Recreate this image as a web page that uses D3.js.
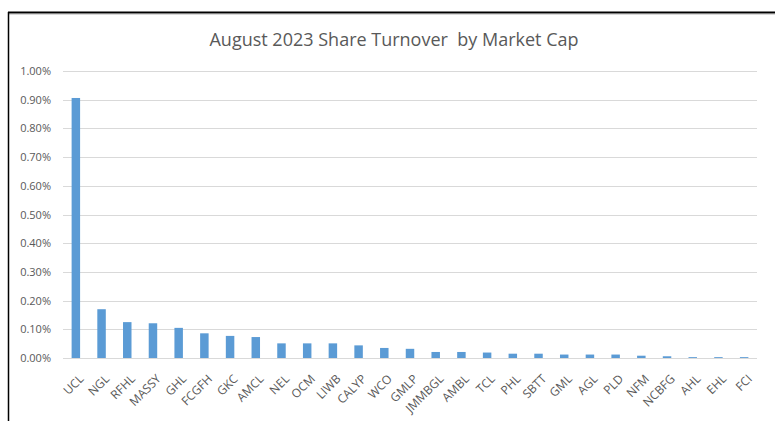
<!DOCTYPE html>
<html>
<head>
<meta charset="utf-8">
<script src="https://cdn.jsdelivr.net/npm/d3@7"></script>
<style>
  body { margin: 0; background: #fff; }
  svg { display: block; font-family: "Open Sans", "Noto Sans", sans-serif; }
</style>
</head>
<body>
<div id="chart"></div>
<script>
// chart data
var tickers = ["UCL", "NGL", "RFHL", "MASSY", "GHL", "FCGFH", "GKC", "AMCL", "NEL", "OCM",
  "LIWB", "CALYP", "WCO", "GMLP", "JMMBGL", "AMBL", "TCL", "PHL", "SBTT", "GML",
  "AGL", "PLD", "NFM", "NCBFG", "AHL", "EHL", "FCI"];
var turnover = [0.906, 0.170, 0.125, 0.121, 0.105, 0.086, 0.077, 0.073, 0.051, 0.051,
  0.051, 0.044, 0.035, 0.032, 0.021, 0.021, 0.019, 0.015, 0.015, 0.012,
  0.012, 0.012, 0.008, 0.006, 0.003, 0.003, 0.003];
var yTicks = [0, 0.1, 0.2, 0.3, 0.4, 0.5, 0.6, 0.7, 0.8, 0.9, 1.0];
var chartTitle = "August 2023 Share Turnover\u00a0 by Market Cap";

var svgWidth = 775;
var svgHeight = 421;

var margin = { top: 71, right: 18, bottom: 63, left: 63 };
var width = svgWidth - margin.left - margin.right;
var height = svgHeight - margin.top - margin.bottom;

var svg = d3.select("#chart")
  .append("svg")
  .attr("width", svgWidth)
  .attr("height", svgHeight);

// outer frame (top and left edges visible)
svg.append("line")
  .attr("x1", 8).attr("x2", svgWidth).attr("y1", 12.5).attr("y2", 12.5)
  .attr("stroke", "#000").attr("stroke-width", 2);
svg.append("line")
  .attr("x1", 8).attr("x2", svgWidth).attr("y1", 14.5).attr("y2", 14.5)
  .attr("stroke", "#d9d9d9").attr("stroke-width", 1);
svg.append("line")
  .attr("x1", 8.5).attr("x2", 8.5).attr("y1", 12).attr("y2", svgHeight)
  .attr("stroke", "#000").attr("stroke-width", 1.5);

svg.append("text")
  .attr("x", 394)
  .attr("y", 46)
  .attr("text-anchor", "middle")
  .attr("fill", "#595959")
  .style("font-size", "18px")
  .text(chartTitle);

var g = svg.append("g")
  .attr("transform", `translate(${margin.left}, ${margin.top})`);

var x = d3.scaleBand()
  .domain(tickers)
  .range([0, width])
  .paddingInner(0.67)
  .paddingOuter(0.335);

var y = d3.scaleLinear()
  .domain([0, 1.0])
  .range([height, 0]);

// gridlines
g.selectAll(".grid")
  .data(yTicks)
  .enter()
  .append("line")
  .attr("x1", 0)
  .attr("x2", width)
  .attr("y1", d => Math.round(y(d)) + 0.5)
  .attr("y2", d => Math.round(y(d)) + 0.5)
  .attr("stroke", "#d9d9d9")
  .attr("stroke-width", 1);

// y axis labels
var leftAxis = d3.axisLeft(y)
  .tickValues(yTicks)
  .tickSize(0)
  .tickPadding(12)
  .tickFormat(d => d.toFixed(2) + "%");

g.append("g")
  .call(leftAxis)
  .call(a => a.select(".domain").remove())
  .selectAll("text")
  .attr("fill", "#595959")
  .style("font-size", "11px")
  .style("font-family", "'Open Sans', sans-serif");

// bars
g.selectAll(".bar")
  .data(turnover)
  .enter()
  .append("rect")
  .attr("class", "bar")
  .attr("x", (d, i) => x(tickers[i]))
  .attr("y", d => y(d))
  .attr("width", x.bandwidth())
  .attr("height", d => height - y(d))
  .attr("fill", "#5b9bd5");

// x axis
var bottomAxis = d3.axisBottom(x).tickSize(0).tickPadding(8);

var xg = g.append("g")
  .attr("transform", `translate(0, ${height})`)
  .call(bottomAxis);

xg.select(".domain")
  .attr("stroke", "#d9d9d9")
  .attr("d", `M0,0.5H${width}`);

xg.selectAll("text")
  .attr("fill", "#595959")
  .style("font-size", "12px")
  .style("font-family", "'Open Sans', sans-serif")
  .attr("text-anchor", "end")
  .attr("dy", "0.35em")
  .attr("transform", "translate(0, 13) rotate(-45)");
</script>
</body>
</html>
